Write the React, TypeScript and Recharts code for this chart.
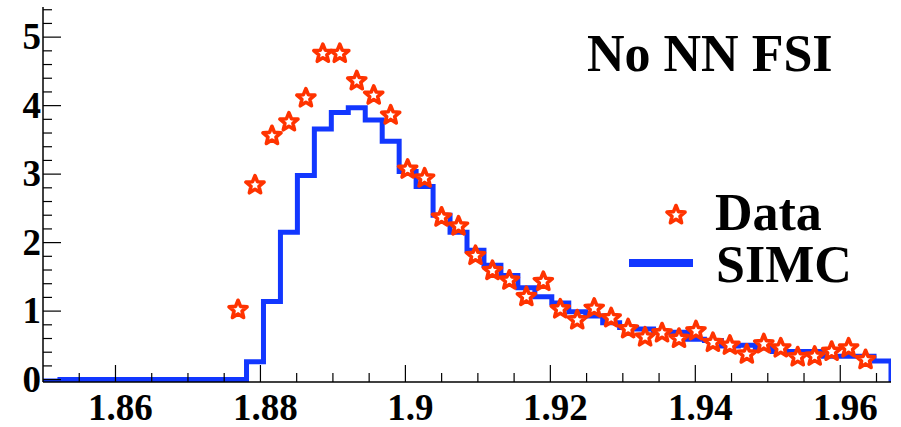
import { ComposedChart, Line, Scatter, XAxis, YAxis } from 'recharts';

// histogram binning: 50 bins between 1.85 and 1.967
const X_MIN = 1.85;
const X_MAX = 1.967;
const N_BINS = 50;
const Y_MIN = -0.035;
const Y_MAX = 5.44;

// SIMC histogram content, one value per bin
const SIMC = [
  -0.02, 0, 0, 0, 0, 0, 0, 0, 0, 0, 0, 0,
  0.26, 1.14, 2.15, 2.98, 3.66, 3.9, 3.97, 3.79, 3.48, 3.04,
  2.82, 2.4, 2.15, 1.89, 1.67, 1.52, 1.34, 1.21, 1.12, 0.99,
  0.93, 0.83, 0.76, 0.74, 0.69, 0.69, 0.59, 0.57, 0.49, 0.5,
  0.46, 0.41, 0.41, 0.41, 0.34, 0.34, 0.34, 0.27,
];

// measured data, starting at bin 11
const DATA_FIRST_BIN = 11;
const DATA = [
  1.02, 2.84, 3.56, 3.76, 4.11, 4.76, 4.76, 4.36, 4.15, 3.86,
  3.07, 2.94, 2.37, 2.24, 1.81, 1.59, 1.45, 1.21, 1.43, 1.03,
  0.87, 1.04, 0.9, 0.74, 0.62, 0.68, 0.6, 0.71, 0.54, 0.5,
  0.37, 0.52, 0.46, 0.33, 0.34, 0.41, 0.46, 0.29,
];

const X_MAJOR = [1.86, 1.88, 1.9, 1.92, 1.94, 1.96];
const X_TICKS = [
  1.855, 1.86, 1.865, 1.87, 1.875, 1.88, 1.885, 1.89, 1.895, 1.9, 1.905, 1.91,
  1.915, 1.92, 1.925, 1.93, 1.935, 1.94, 1.945, 1.95, 1.955, 1.96, 1.965,
];
const Y_MAJOR = [0, 1, 2, 3, 4, 5];
const Y_TICKS = [
  0, 0.2, 0.4, 0.6, 0.8, 1, 1.2, 1.4, 1.6, 1.8, 2, 2.2, 2.4, 2.6, 2.8, 3,
  3.2, 3.4, 3.6, 3.8, 4, 4.2, 4.4, 4.6, 4.8, 5, 5.2, 5.4,
];

const binW = (X_MAX - X_MIN) / N_BINS;
const simcLine = SIMC.map((y, i) => ({ x: X_MIN + i * binW, y }));
simcLine.push({ x: X_MAX, y: Y_MIN });
const dataPts = DATA.map((y, i) => ({ x: X_MIN + (DATA_FIRST_BIN + i + 0.5) * binW, y }));

const FONT = '"Liberation Serif", "Times New Roman", serif';
const RED = '#ff3300';
const BLUE = '#1237ff';

const isMajor = (v: number, list: number[]) => list.some((m) => Math.abs(m - v) < 1e-6);

function starPoints(cx: number, cy: number, R: number, r: number) {
  const pts: string[] = [];
  for (let i = 0; i < 10; i++) {
    const rad = i % 2 === 0 ? R : r;
    const a = (Math.PI / 5) * i - Math.PI / 2;
    pts.push(`${cx + rad * Math.cos(a)},${cy + rad * Math.sin(a)}`);
  }
  return pts.join(' ');
}

const Star = ({ cx, cy }: { cx: number; cy: number }) => (
  <polygon
    points={starPoints(cx, cy, 9.5, 4.2)}
    fill="#fff"
    stroke={RED}
    strokeWidth={3.6}
    strokeLinejoin="round"
  />
);

const BottomTick = (props: any) => {
  const { x, y, payload } = props;
  const major = isMajor(payload.value, X_MAJOR);
  return (
    <g>
      <line x1={x} x2={x} y1={y} y2={y - (major ? 17 : 9)} stroke="#000" strokeWidth={1.2} />
      {major && (
        <text x={x + 5} y={y + 38} textAnchor="middle" fontFamily={FONT} fontWeight="bold" fontSize={37} fill="#000">
          {parseFloat(payload.value.toFixed(3)).toString()}
        </text>
      )}
    </g>
  );
};

const TopTick = (props: any) => {
  const { x, y, payload } = props;
  const major = isMajor(payload.value, X_MAJOR);
  return <line x1={x} x2={x} y1={y} y2={y + (major ? 14 : 7)} stroke="#000" strokeWidth={1.2} />;
};

const LeftTick = (props: any) => {
  const { x, y, payload } = props;
  const major = isMajor(payload.value, Y_MAJOR);
  return (
    <g>
      <line x1={x} x2={x + (major ? 18 : 9)} y1={y} y2={y} stroke="#000" strokeWidth={1.2} />
      {major && (
        <text x={x - 2} y={y + 12} textAnchor="end" fontFamily={FONT} fontWeight="bold" fontSize={37} fill="#000">
          {payload.value}
        </text>
      )}
    </g>
  );
};

const RightTick = (props: any) => {
  const { x, y, payload } = props;
  const major = isMajor(payload.value, Y_MAJOR);
  return <line x1={x} x2={x - (major ? 15 : 7)} y1={y} y2={y} stroke="#000" strokeWidth={1.2} />;
};

const axisLine = { stroke: '#000', strokeWidth: 1.5 };

export default function App() {
  return (
    <div style={{ position: 'absolute', left: 0, top: 0, width: 901, height: 427, background: '#fff' }}>
      <ComposedChart width={901} height={427} margin={{ top: 7, right: 10, left: 0, bottom: 0 }}>
        <XAxis
          dataKey="x"
          type="number"
          domain={[X_MIN, X_MAX]}
          allowDataOverflow
          ticks={X_TICKS}
          interval={0}
          height={45}
          tickSize={0}
          tickMargin={0}
          tickLine={false}
          axisLine={axisLine}
          tick={BottomTick}
        />
        <XAxis
          xAxisId="top"
          orientation="top"
          dataKey="x"
          type="number"
          domain={[X_MIN, X_MAX]}
          allowDataOverflow
          ticks={X_TICKS}
          interval={0}
          height={0}
          tickSize={0}
          tickMargin={0}
          tickLine={false}
          axisLine={axisLine}
          tick={TopTick}
        />
        <YAxis
          type="number"
          domain={[Y_MIN, Y_MAX]}
          allowDataOverflow
          ticks={Y_TICKS}
          interval={0}
          width={43}
          tickSize={0}
          tickMargin={0}
          tickLine={false}
          axisLine={axisLine}
          tick={LeftTick}
        />
        <YAxis
          yAxisId="right"
          orientation="right"
          type="number"
          domain={[Y_MIN, Y_MAX]}
          allowDataOverflow
          ticks={Y_TICKS}
          interval={0}
          width={0}
          tickSize={0}
          tickMargin={0}
          tickLine={false}
          axisLine={axisLine}
          tick={RightTick}
        />
        <Line
          data={simcLine}
          dataKey="y"
          type="stepAfter"
          stroke={BLUE}
          strokeWidth={5}
          strokeLinejoin="miter"
          dot={false}
          activeDot={false}
          isAnimationActive={false}
        />
        <Scatter
          data={dataPts}
          dataKey="y"
          shape={(p: any) => <Star cx={p.cx} cy={p.cy} />}
          isAnimationActive={false}
        />
      </ComposedChart>
      <svg width={901} height={427} style={{ position: 'absolute', left: 0, top: 0, pointerEvents: 'none' }}>
        <text x={587} y={71} fontFamily={FONT} fontWeight="bold" fontSize={52} fill="#000">No NN FSI</text>
        <Star cx={676} cy={215} />
        <text x={715} y={230} fontFamily={FONT} fontWeight="bold" fontSize={52} fill="#000">Data</text>
        <line x1={629} x2={693} y1={263} y2={263} stroke={BLUE} strokeWidth={8} />
        <text x={716} y={282} fontFamily={FONT} fontWeight="bold" fontSize={52} fill="#000">SIMC</text>
      </svg>
    </div>
  );
}
